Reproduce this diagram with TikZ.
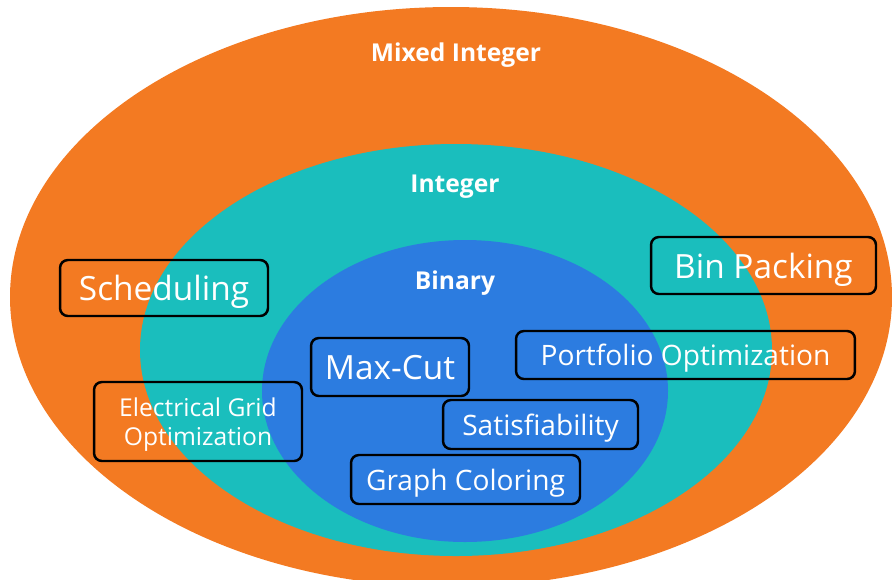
\documentclass[tikz,border=0pt]{standalone}
\usepackage{fontspec}
\setmainfont{Open Sans}
\definecolor{mixedorange}{RGB}{243,122,34}
\definecolor{intteal}{RGB}{26,190,189}
\definecolor{binblue}{RGB}{44,124,224}
\begin{document}
\begin{tikzpicture}[x=0.02cm,y=-0.02cm]

\tikzstyle{setlabel} = [text=white,font=\fontsize{14}{16}\selectfont\bfseries];
\tikzstyle{problem} = [draw=black,line width=1.4pt,rounded corners=4.5pt,text=white,align=center,inner sep=0pt,text depth=0pt];
\tikzstyle{bigtext} = [font=\fontsize{19}{22}\selectfont];
\tikzstyle{midtext} = [font=\fontsize{16}{19}\selectfont];

\useasboundingbox (0,0) rectangle (892,579);
\clip (0,0) rectangle (892,579);

% nested sets
\fill[mixedorange] (451,297) ellipse (441 and 290);
\fill[intteal] (456,350) ellipse (316 and 206);
\fill[binblue] (465,391) ellipse (203 and 151);

\node[setlabel] (mixed) at (456,55) {Mixed Integer};
\node[setlabel] (integer) at (455,187) {Integer};
\node[setlabel] (binary) at (455,283) {Binary};

% problem boxes
\node[problem,bigtext,minimum width=4.16cm,minimum height=1.12cm] (sched) at (164,288) {Scheduling};
\node[problem,bigtext,minimum width=4.5cm,minimum height=1.14cm] (binpack) at (763.5,265.5) {Bin Packing};
\node[problem,bigtext,minimum width=3.16cm,minimum height=1.16cm] (maxcut) at (390,367) {Max-Cut};
\node[problem,midtext,minimum width=6.78cm,minimum height=0.96cm] (portfolio) at (685.5,355) {Portfolio Optimization};
\node[problem,font=\fontsize{14}{16.4}\selectfont,minimum width=4.16cm,minimum height=1.58cm] (elecgrid) at (198,421.5) {Electrical Grid\\Optimization};
\node[problem,midtext,minimum width=3.9cm,minimum height=0.98cm] (satis) at (540.5,424.5) {Satisfiability};
\node[problem,midtext,minimum width=4.58cm,minimum height=0.98cm] (graphcol) at (465.5,479.5) {Graph Coloring};
\end{tikzpicture}
\end{document}
